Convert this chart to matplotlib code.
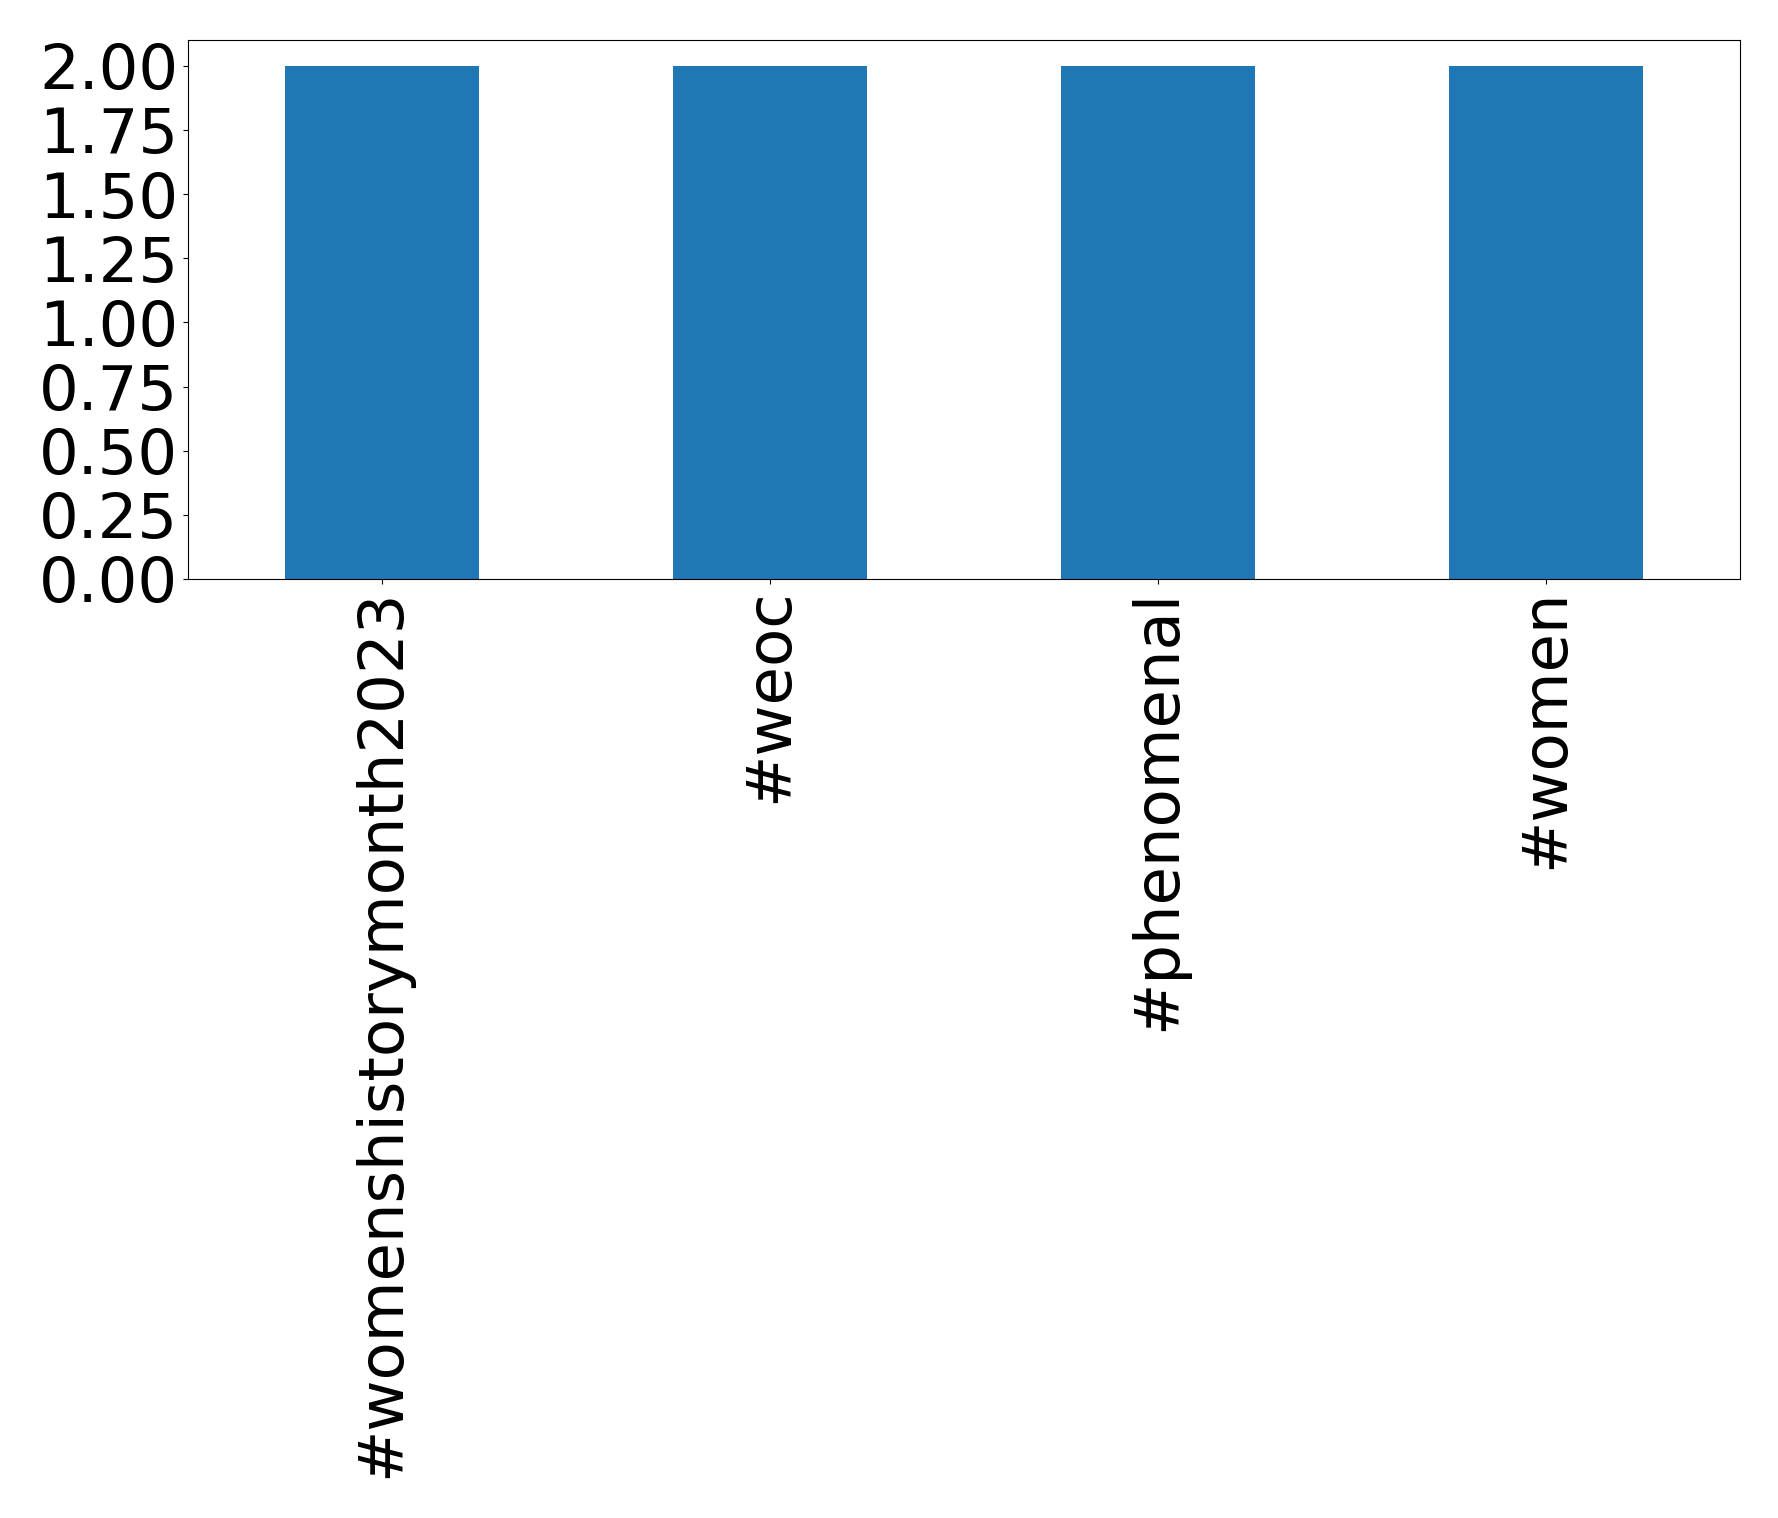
import numpy as np
import matplotlib
matplotlib.use("Agg")
import matplotlib.pyplot as plt

hashtags = ["#womenshistorymonth2023", "#weoc", "#phenomenal", "#women"]
counts = [2, 2, 2, 2]

fig = plt.figure(figsize=(17.78, 15.18), dpi=100)
ax = fig.add_axes([0.1057, 0.6186, 0.873, 0.355])
x = np.arange(len(hashtags))
ax.bar(x, counts, width=0.5, color="#1f77b4")
ax.set_xticks(x)
ax.set_xticklabels(hashtags, rotation=90)
ax.set_xlim(-0.5, len(hashtags) - 0.5)
ax.set_yticks(np.arange(0, 2.01, 0.25))
ax.set_yticklabels(["%.2f" % v for v in np.arange(0, 2.01, 0.25)])
ax.tick_params(labelsize=45)
fig.savefig("out.png")
